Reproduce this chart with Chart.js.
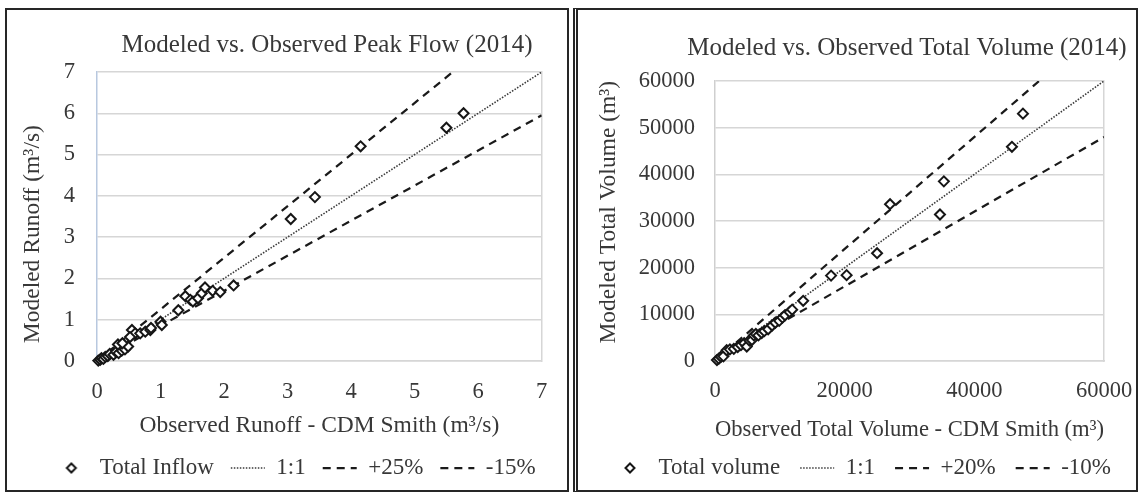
<!DOCTYPE html>
<html>
<head>
<meta charset="utf-8">
<title>Modeled vs. Observed (2014)</title>
<script src="https://cdn.jsdelivr.net/npm/chart.js@4.4.0/dist/chart.umd.min.js"></script>
<style>
  html, body { margin: 0; padding: 0; background: #fff; }
  body { position: relative; width: 1140px; height: 494px; overflow: hidden; }
  .panel { position: absolute; top: 8px; height: 484px; box-sizing: border-box; border: 2px solid #262626; }
  #panelLeft { left: 5px; width: 564px; }
  #panelRight { left: 573px; width: 565px; border-left: 5px double #262626; }
  canvas { position: absolute; top: 10px; }
  #peakChart { left: 7px; }
  #volumeChart { left: 578px; }
</style>
</head>
<body>
<div class="panel" id="panelLeft"></div>
<div class="panel" id="panelRight"></div>
<canvas id="peakChart" width="558" height="482"></canvas>
<canvas id="volumeChart" width="558" height="482"></canvas>
<script>
// 1. DATA
// Peak flow (m3/s): observed (CDM Smith) vs modeled
const peakObserved = [0.02, 0.05, 0.07, 0.10, 0.13, 0.17, 0.20, 0.26, 0.30, 0.34, 0.39, 0.44, 0.49, 0.33, 0.40,
    0.55, 0.60, 0.52, 0.68, 0.76, 0.84, 0.85, 1.00, 1.02, 1.28, 1.39, 1.47, 1.51, 1.59, 1.65,
    1.70, 1.82, 1.94, 2.15, 3.05, 3.43, 4.15, 5.50, 5.77];
const peakModeled = [0.01, 0.03, 0.07, 0.05, 0.10, 0.12, 0.17, 0.15, 0.22, 0.19, 0.25, 0.28, 0.35, 0.40, 0.43,
    0.75, 0.67, 0.58, 0.67, 0.71, 0.75, 0.80, 0.95, 0.87, 1.23, 1.57, 1.48, 1.44, 1.52, 1.64,
    1.78, 1.70, 1.67, 1.83, 3.44, 3.97, 5.20, 5.65, 6.00];
const peakTicks = [0, 1, 2, 3, 4, 5, 6, 7];
const peakOneToOne = [{ x: 0, y: 0 }, { x: 7, y: 7 }];
const peakPlus25 = [{ x: 0, y: 0 }, { x: 5.6, y: 7 }];
const peakMinus15 = [{ x: 0, y: 0 }, { x: 7, y: 5.95 }];

// Total volume (m3): observed (CDM Smith) vs modeled
const volumeObserved = [300, 600, 900, 1300, 1800, 2300, 2900, 3500, 4000, 4500, 4900, 5300, 5700, 6000, 6300,
    6700, 7200, 7600, 8200, 8800, 9300, 9900, 10400, 10800, 11500, 11900, 13600, 17900, 20300, 25000,
    27000, 34700, 35300, 45800, 47500];
const volumeModeled = [200, 500, 900, 1000, 2300, 2500, 2600, 3000, 3400, 3800, 3100, 4400, 4500, 5500, 5800,
    5500, 6000, 6400, 6800, 7600, 8200, 8600, 9300, 9800, 10500, 11000, 12900, 18300, 18400, 23100,
    33600, 31400, 38500, 45900, 53000];
const volumeXTicks = [0, 20000, 40000, 60000];
const volumeYTicks = [0, 10000, 20000, 30000, 40000, 50000, 60000];
const volumeOneToOne = [{ x: 0, y: 0 }, { x: 60000, y: 60000 }];
const volumePlus20 = [{ x: 0, y: 0 }, { x: 50000, y: 60000 }];
const volumeMinus10 = [{ x: 0, y: 0 }, { x: 60000, y: 48000 }];

// 2. STYLE
const FONT = "'Liberation Serif', 'Times New Roman', serif";
const TEXT = '#383838';
const GRID = '#d6d6d6';
const MARK = '#161616';
const CLEAR = 'rgba(0,0,0,0)';
Chart.defaults.font.family = FONT;

function points(xs, ys) {
    return xs.map((x, i) => ({ x: x, y: ys[i] }));
}

// Small hollow diamond used as the legend symbol of the scatter series
// (the built-in rectRot gets stretched by pointStyleWidth)
function diamondIcon() {
    const c = document.createElement('canvas');
    c.width = 14;
    c.height = 14;
    const ctx = c.getContext('2d');
    ctx.fillStyle = '#ffffff';
    ctx.strokeStyle = MARK;
    ctx.lineWidth = 2;
    ctx.beginPath();
    ctx.moveTo(7, 2.5);
    ctx.lineTo(11.5, 7);
    ctx.lineTo(7, 11.5);
    ctx.lineTo(2.5, 7);
    ctx.closePath();
    ctx.fill();
    ctx.stroke();
    return c;
}
const DIAMOND = diamondIcon();

// Moves the title and the legend row sideways once the boxes are laid out
const blockShift = {
    id: 'blockShift',
    afterLayout(chart, args, opts) {
        if (chart.legend && opts.legendDx) {
            chart.legend.left += opts.legendDx;
            chart.legend.right += opts.legendDx;
        }
        if (chart.titleBlock && opts.titleDx) {
            chart.titleBlock.left += opts.titleDx;
            chart.titleBlock.right += opts.titleDx;
        }
    }
};

// Legend entries: diamond for the scatter, short dashed/dotted strokes for the guide lines
function legendLabels(chart) {
    return chart.data.datasets.map((ds, i) => ({
        text: ds.label,
        datasetIndex: i,
        fontColor: TEXT,
        fillStyle: '#ffffff',
        strokeStyle: ds.borderColor,
        lineWidth: ds.borderWidth,
        lineDash: ds.borderDash || [],
        pointStyle: ds.showLine ? 'line' : DIAMOND
    }));
}

function fixedTicks(values) {
    return (scale) => { scale.ticks = values.map(v => ({ value: v })); };
}

// 3. CHARTING LOGIC
function renderChart(canvasId, d, lay) {
    const canvas = document.getElementById(canvasId);
    if (!canvas) return;

    const tickFont = { family: FONT, size: 22.5 };
    const axisTitleFont = { family: FONT, size: 23.5 };

    new Chart(canvas, {
        type: 'scatter',
        data: {
            datasets: [{
                label: d.seriesName,
                data: points(d.observed, d.modeled),
                pointStyle: 'rectRot',
                pointRadius: 5,
                pointHoverRadius: 5,
                borderColor: MARK,
                backgroundColor: '#ffffff',
                borderWidth: 2,
                clip: false
            }, {
                label: '1:1',
                data: d.oneToOne,
                showLine: true,
                pointRadius: 0,
                borderColor: '#3a3a3a',
                borderWidth: 1.6,
                borderDash: [1.5, 1.5]
            }, {
                label: d.upperName,
                data: d.upper,
                showLine: true,
                pointRadius: 0,
                borderColor: '#1a1a1a',
                borderWidth: 2.25,
                borderDash: [8, 6]
            }, {
                label: d.lowerName,
                data: d.lower,
                showLine: true,
                pointRadius: 0,
                borderColor: '#1a1a1a',
                borderWidth: 2.25,
                borderDash: [8, 6]
            }]
        },
        options: {
            responsive: false,
            animation: false,
            events: [],
            layout: { padding: { left: 0, right: 0, top: 0, bottom: 2.5 } },
            plugins: {
                title: {
                    display: true,
                    text: d.title,
                    color: TEXT,
                    font: { family: FONT, size: 25, weight: 'normal' },
                    padding: { top: lay.titleTop, bottom: lay.titleBottom }
                },
                legend: {
                    position: 'bottom',
                    labels: {
                        usePointStyle: true,
                        pointStyleWidth: 34,
                        boxHeight: 5.7,
                        padding: lay.legendGap,
                        color: TEXT,
                        font: { family: FONT, size: 23 },
                        generateLabels: legendLabels
                    }
                },
                tooltip: { enabled: false },
                blockShift: { legendDx: lay.legendDx, titleDx: lay.titleDx }
            },
            scales: {
                x: {
                    type: 'linear',
                    min: 0,
                    max: d.xTicks[d.xTicks.length - 1],
                    afterBuildTicks: fixedTicks(d.xTicks),
                    afterFit: (s) => { s.height = lay.xHeight; },
                    // invisible tick marks keep the labels clear of the axis
                    grid: { display: true, drawOnChartArea: false, drawTicks: true, tickLength: lay.xTickGap, color: CLEAR, tickColor: CLEAR },
                    border: { display: true, color: GRID, width: 1.5 },
                    ticks: { padding: 0, color: TEXT, font: tickFont, maxRotation: 0, autoSkip: false, callback: (v) => String(v) },
                    title: { display: true, text: d.xTitle, color: TEXT, font: axisTitleFont, padding: { top: 0, bottom: lay.xTitleBottom } }
                },
                y: {
                    type: 'linear',
                    position: 'left',
                    min: 0,
                    max: d.yTicks[d.yTicks.length - 1],
                    afterBuildTicks: fixedTicks(d.yTicks),
                    afterFit: (s) => { s.width = lay.yWidth; },
                    grid: { color: GRID, lineWidth: 1.5, drawTicks: false },
                    border: { display: true, color: lay.yAxisColor, width: 1.5 },
                    ticks: { padding: lay.yTickPad, color: TEXT, font: tickFont, autoSkip: false, callback: (v) => String(v) },
                    title: { display: true, text: d.yTitle, color: TEXT, font: axisTitleFont, padding: { top: lay.yTitlePad, bottom: 0 } }
                },
                // right edge of the plot frame
                frame: {
                    type: 'linear',
                    position: 'right',
                    afterFit: (s) => { s.width = lay.rightGap; },
                    grid: { display: false, drawTicks: false },
                    ticks: { display: false },
                    border: { display: true, color: GRID, width: 1.5 }
                }
            }
        },
        plugins: [blockShift]
    });
}

renderChart('peakChart', {
    title: 'Modeled vs. Observed Peak Flow (2014)',
    xTitle: 'Observed Runoff - CDM Smith (m\u00b3/s)',
    yTitle: 'Modeled Runoff (m\u00b3/s)      ',
    seriesName: 'Total Inflow',
    upperName: '+25%',
    lowerName: '-15%',
    observed: peakObserved,
    modeled: peakModeled,
    oneToOne: peakOneToOne,
    upper: peakPlus25,
    lower: peakMinus15,
    xTicks: peakTicks,
    yTicks: peakTicks
}, {
    titleTop: 20.5, titleBottom: 11.5, titleDx: 41,
    xHeight: 78.5, xTickGap: 18, xTitleBottom: 0,
    yWidth: 90, yTickPad: 22, yTitlePad: 12, yAxisColor: '#b8c8df',
    rightGap: 23.3, legendGap: 17, legendDx: 9
});

renderChart('volumeChart', {
    title: 'Modeled vs. Observed Total Volume (2014)',
    xTitle: 'Observed Total Volume - CDM Smith (m\u00b3)',
    yTitle: '   Modeled Total Volume (m\u00b3)',
    seriesName: 'Total volume',
    upperName: '+20%',
    lowerName: '-10%',
    observed: volumeObserved,
    modeled: volumeModeled,
    oneToOne: volumeOneToOne,
    upper: volumePlus20,
    lower: volumeMinus10,
    xTicks: volumeXTicks,
    yTicks: volumeYTicks
}, {
    titleTop: 23.5, titleBottom: 17.5, titleDx: 50,
    xHeight: 75.5, xTickGap: 17, xTitleBottom: -7.6,
    yWidth: 137, yTickPad: 20, yTitlePad: 17, yAxisColor: '#cfcfcf',
    rightGap: 32, legendGap: 20, legendDx: 5
});
</script>
</body>
</html>
